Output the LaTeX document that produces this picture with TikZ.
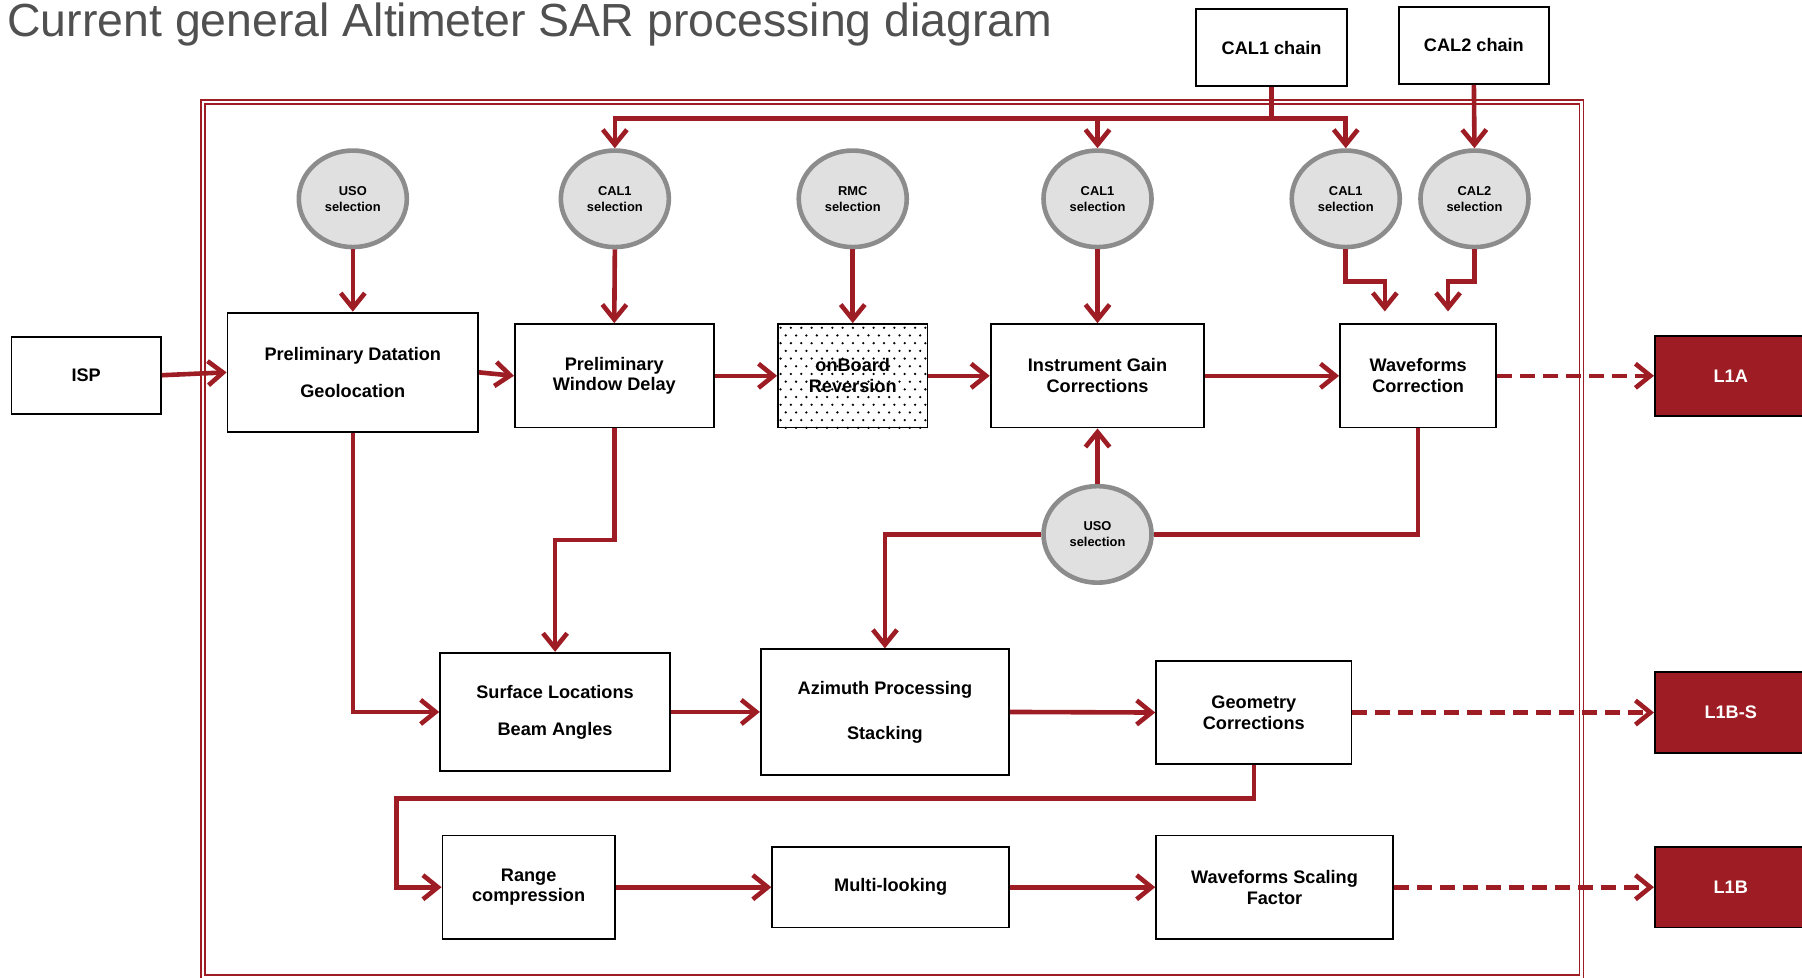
\documentclass[tikz,border=0pt]{standalone}
\usepackage{fontspec}
\setmainfont{Liberation Sans}
\usetikzlibrary{arrows.meta,shapes.geometric,calc}
\definecolor{dred}{RGB}{158,28,36}
\definecolor{cgray}{RGB}{224,224,224}
\definecolor{cedge}{RGB}{140,140,140}
\definecolor{tgray}{RGB}{80,80,80}
\begin{document}
\begin{tikzpicture}[x=0.5pt,y=-0.5pt,
  box/.style={draw=black, line width=0.8pt, fill=white, align=center, inner sep=1pt, font=\fontsize{7.9pt}{9pt}\selectfont\bfseries},
  outbox/.style={draw=black, line width=0.8pt, fill=dred, text=white, minimum width=66pt, minimum height=35pt, font=\fontsize{7.9pt}{9pt}\selectfont\bfseries},
  sel/.style={ellipse, draw=cedge, line width=2pt, fill=cgray, minimum width=47pt, minimum height=42pt, inner sep=0pt, align=center, font=\fontsize{5.6pt}{7pt}\selectfont\bfseries},
  link/.style={draw=dred, line width=2pt},
  arr/.style={link, -{Straight Barb[length=6.5pt,width=10.5pt]}},
  darr/.style={arr, dash pattern=on 6.5pt off 3.5pt},
  frame/.style={draw=dred, line width=0.6pt}
]
\useasboundingbox (0,0) rectangle (1568,851);

% title
\node[anchor=base west, text=tgray, inner sep=0pt, font=\fontsize{20.2pt}{24pt}\selectfont] (title) at (6,32) {Current general Altimeter SAR processing diagram};

% outer double frame
\draw[frame] (175,87) rectangle (1378,852);
\draw[frame] (178.5,90.5) rectangle (1374.5,848.5);

% boxes
\node[box, minimum width=65.5pt, minimum height=33.5pt] (cal1chain) at (1106.5,41.5) {CAL1 chain};
\node[box, minimum width=65.5pt, minimum height=33.5pt] (cal2chain) at (1282.5,39.5) {CAL2 chain};
\node[box, minimum width=65pt, minimum height=33.5pt] (isp) at (75,326.5) {ISP};
\node[box, minimum width=109pt, minimum height=52pt] (pdg) at (307,324) {Preliminary Datation\\[7pt]Geolocation};
\node[box, minimum width=86.5pt, minimum height=45pt] (pwd) at (534.5,327) {Preliminary\\Window Delay};
\node[box, minimum width=65pt, minimum height=45pt] (obr) at (742,327) {onBoard\\Reversion};
\node[box, minimum width=93pt, minimum height=45pt] (igc) at (955,327) {Instrument Gain\\Corrections};
\node[box, minimum width=68pt, minimum height=45pt] (wc) at (1234,327) {Waveforms\\Correction};
\node[outbox] (l1a) at (1506,327) {L1A};
\node[outbox] (l1bs) at (1506,620) {L1B-S};
\node[outbox] (l1b) at (1506,772) {L1B};
\node[box, minimum width=100pt, minimum height=51.5pt] (slb) at (483,619.5) {Surface Locations\\[7pt]Beam Angles};
\node[box, minimum width=108pt, minimum height=54.5pt] (aps) at (770,619.5) {Azimuth Processing\\[10.5pt]Stacking};
\node[box, minimum width=85pt, minimum height=45pt] (gc) at (1091,620) {Geometry\\Corrections};
\node[box, minimum width=75pt, minimum height=45pt] (rc) at (460,772) {Range\\compression};
\node[box, minimum width=103pt, minimum height=35pt] (ml) at (775,772) {Multi-looking};
\node[box, minimum width=103pt, minimum height=45pt] (wsf) at (1109,772) {Waveforms Scaling\\Factor};

% dotted pattern of onBoard Reversion
\begin{scope}
\clip (obr.south west) rectangle (obr.north east);
\foreach \r in {0,...,13} {
  \foreach \c in {0,...,14} {
    \fill ($(obr.north west)+({3+\c*9+mod(\r,2)*4.5}, {4+\r*6.7})$) circle (0.55pt);
  }
}
\end{scope}

% selection ellipses
\node[sel] (uso1) at (307,173) {USO\\selection};
\node[sel] (cal1a) at (535,173) {CAL1\\selection};
\node[sel] (rmc) at (742,173) {RMC\\selection};
\node[sel] (cal1b) at (955,173) {CAL1\\selection};
\node[sel] (cal1c) at (1171,173) {CAL1\\selection};
\node[sel] (cal2s) at (1283,173) {CAL2\\selection};
\node[sel] (uso2) at (955,465) {USO\\selection};

% helper coordinates
\coordinate (busy) at (0,103);
\coordinate (bus) at (cal1chain.south |- busy);
\coordinate (bendy) at (0,245);
\coordinate (wa) at (1205,271);
\coordinate (wb) at (1260,271);
\coordinate (k1y) at (0,470);
\coordinate (k2) at (345,695);

% connectors
\draw[link] (cal1chain.south) -- (bus);
\draw[arr] (bus) -| (cal1a.north);
\draw[arr] (bus) -| (cal1c.north);
\draw[arr] (cal1b.north |- bus) -- (cal1b.north);
\draw[arr] (cal2chain.south) -- (cal2s.north);

\draw[arr] (uso1.south) -- (pdg.north);
\draw[arr] (cal1a.south) -- (pwd.north);
\draw[arr] (rmc.south) -- (obr.north);
\draw[arr] (cal1b.south) -- (igc.north);
\draw[arr] (cal1c.south) |- (wa |- bendy) -- (wa);
\draw[arr] (cal2s.south) |- (wb |- bendy) -- (wb);

\draw[arr] (isp.east) -- (pdg.west);
\draw[arr] (pdg.east) -- (pwd.west);
\draw[arr] (pwd.east) -- (obr.west);
\draw[arr] (obr.east) -- (igc.west);
\draw[arr] (igc.east) -- (wc.west);
\draw[darr] (wc.east) -- (l1a.west);

\draw[arr] (uso2.north) -- (igc.south);
\draw[link] (wc.south) |- (uso2.east);
\draw[arr] (uso2.west) -| (aps.north);
\draw[arr] (pwd.south) |- (slb.north |- k1y) -- (slb.north);
\draw[arr] (pdg.south) |- (slb.west);
\draw[arr] (slb.east) -- (aps.west);
\draw[arr] (aps.east) -- (gc.west);
\draw[darr] (gc.east) -- (l1bs.west);

\draw[arr] (gc.south) |- (k2) |- (rc.west);
\draw[arr] (rc.east) -- (ml.west);
\draw[arr] (ml.east) -- (wsf.west);
\draw[darr] (wsf.east) -- (l1b.west);
\end{tikzpicture}
\end{document}
